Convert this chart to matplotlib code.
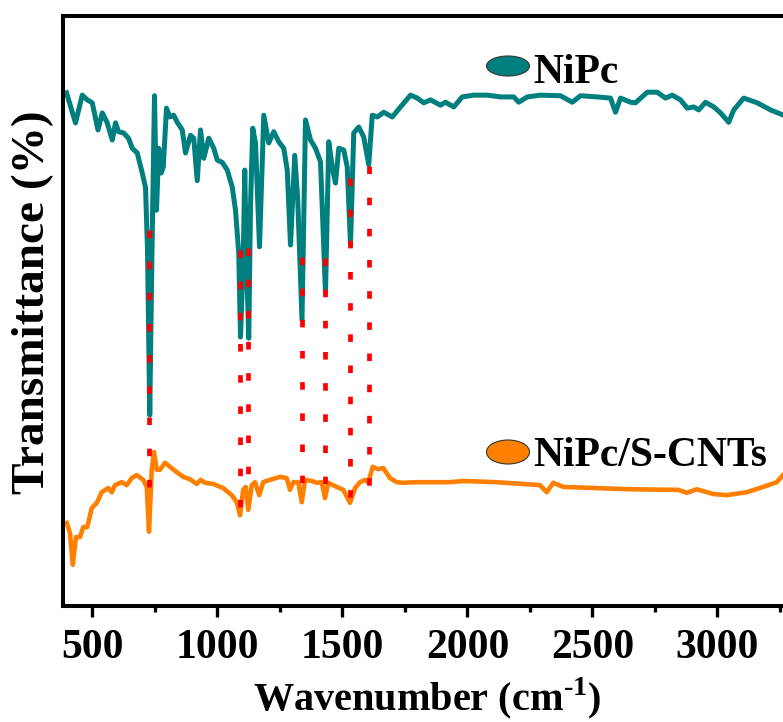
import matplotlib
matplotlib.use('Agg')
import matplotlib.pyplot as plt
from matplotlib.patches import Ellipse
from matplotlib.ticker import MultipleLocator

# NiPc spectrum (wavenumber in cm-1, transmittance in arbitrary %)
nipc_wn = [396, 432, 459, 479, 499, 522, 539, 559, 579, 592, 604, 624, 644, 659, 679, 699, 712, 720,
           729, 738, 748, 756, 765, 775, 783, 796, 809, 825, 839, 859, 872, 892, 905, 919, 932, 945,
           965, 985, 999, 1019, 1039, 1059, 1072, 1085, 1092, 1103, 1109, 1116, 1125, 1132, 1141,
           1152, 1168, 1185, 1205, 1225, 1245, 1265, 1279, 1292, 1309, 1321, 1338, 1352, 1372, 1392,
           1412, 1432, 1445, 1459, 1472, 1485, 1505, 1519, 1532, 1545, 1565, 1585, 1605, 1619, 1639,
           1665, 1699, 1732, 1772, 1799, 1825, 1852, 1892, 1912, 1945, 1979, 2025, 2079, 2132, 2185,
           2205, 2239, 2292, 2372, 2419, 2452, 2519, 2572, 2592, 2612, 2652, 2672, 2719, 2759, 2792,
           2819, 2852, 2879, 2905, 2925, 2952, 2985, 3012, 3045, 3065, 3105, 3159, 3212, 3264, 3300]
nipc_t = [86.9, 81.8, 86.5, 85.7, 85.2, 80.6, 83.5, 81.8, 78.9, 81.8, 80.3, 80.1, 79.2, 77.5, 76.7,
          73.3, 70.9, 60.3, 32.3, 60.3, 86.4, 67.0, 77.5, 73.3, 74.3, 84.3, 82.8, 83.1, 81.9, 80.6,
          76.7, 79.7, 79.2, 72.0, 80.6, 75.8, 79.2, 77.5, 75.5, 75.1, 73.8, 70.9, 67.0, 59.7, 45.5,
          58.6, 73.8, 58.6, 45.3, 67.8, 80.9, 78.4, 60.8, 83.1, 78.4, 80.3, 78.6, 77.5, 73.8, 61.1,
          76.3, 68.7, 48.4, 82.3, 78.9, 77.5, 75.2, 53.0, 78.6, 74.3, 71.6, 77.5, 77.2, 74.3, 61.1,
          80.1, 81.1, 79.4, 74.7, 83.1, 82.8, 83.6, 82.8, 84.5, 86.5, 86.0, 85.2, 85.7, 84.8, 85.3,
          84.5, 86.2, 86.5, 86.5, 86.2, 86.2, 85.3, 86.2, 86.5, 86.4, 85.3, 86.4, 86.2, 86.0, 83.6,
          86.0, 85.3, 85.2, 87.0, 87.0, 86.0, 86.5, 85.7, 84.3, 84.5, 84.0, 85.3, 84.5, 83.5, 81.9,
          84.0, 86.0, 85.2, 84.0, 83.1, 82.6]

# NiPc/S-CNTs spectrum
cnt_wn = [397, 410, 421, 434, 450, 463, 479, 497, 517, 537, 563, 577, 590, 617, 637, 657, 677, 703,
          717, 726, 737, 746, 757, 770, 790, 810, 837, 863, 890, 917, 933, 950, 983, 1023, 1057,
          1077, 1090, 1103, 1113, 1123, 1137, 1150, 1167, 1183, 1210, 1250, 1277, 1290, 1303, 1323,
          1337, 1350, 1377, 1397, 1417, 1430, 1443, 1477, 1503, 1530, 1550, 1570, 1590, 1603, 1621,
          1643, 1663, 1690, 1717, 1743, 1797, 1850, 1930, 1983, 2117, 2290, 2317, 2343, 2383, 2517,
          2650, 2843, 2877, 2917, 2983, 3037, 3117, 3183, 3237, 3262, 3300]
cnt_t = [14.0, 12.3, 6.9, 11.6, 11.6, 13.3, 13.3, 16.5, 17.4, 19.2, 19.9, 19.2, 20.4, 20.9, 20.4,
         21.6, 22.1, 21.3, 20.1, 12.5, 23.0, 26.0, 23.0, 23.0, 24.2, 23.5, 22.6, 21.8, 21.4, 20.6,
         21.3, 20.8, 20.6, 19.9, 18.7, 17.5, 15.3, 19.6, 20.1, 16.2, 20.4, 20.9, 18.7, 20.9, 21.3,
         21.8, 21.6, 19.6, 20.9, 20.9, 17.5, 21.3, 21.1, 20.8, 20.9, 18.2, 20.8, 20.1, 19.6, 17.4,
         19.9, 20.9, 21.3, 20.9, 23.5, 23.1, 23.3, 21.6, 20.9, 20.8, 20.9, 20.9, 20.9, 21.1, 20.9,
         20.4, 19.2, 20.8, 20.1, 19.9, 19.7, 19.6, 19.1, 19.7, 18.9, 18.7, 19.2, 20.1, 20.9, 22.1,
         23.8]

# marked NiPc bands and the span of each guide line
peak_wn = [727, 1090, 1123, 1337, 1430, 1529, 1606]
peak_top = [63.6, 60.3, 60.6, 59.1, 58.9, 72.5, 74.5]
peak_bottom = [18.4, 15.3, 21.3, 19.9, 19.6, 16.9, 18.7]

series_names = ['NiPc', 'NiPc/S-CNTs']
series_colors = ['#007f7f', '#ff8000']

plt.rcParams['font.family'] = ['Liberation Serif', 'DejaVu Serif']
plt.rcParams['font.weight'] = 'bold'
plt.rcParams['mathtext.fontset'] = 'custom'
plt.rcParams['mathtext.rm'] = 'Liberation Serif:bold'
plt.rcParams['mathtext.bf'] = 'Liberation Serif:bold'

W, H = 783., 722.
fig = plt.figure(figsize=(W / 100, H / 100), dpi=100)
ax = fig.add_axes([63 / W, (H - 605.5) / H, 727.8 / W, 590 / H])

ax.plot(nipc_wn, nipc_t, color=series_colors[0], linewidth=3.6, solid_joinstyle='round', zorder=2)
ax.plot(cnt_wn, cnt_t, color=series_colors[1], linewidth=3.3, solid_joinstyle='round', zorder=2)

for wn, top, bottom in zip(peak_wn, peak_top, peak_bottom):
    ax.plot([wn, wn], [top, bottom], color='#ff0000', linewidth=3.4,
            linestyle=(0, (1.6, 5.0)), dash_capstyle='butt', zorder=3)

ax.set_xlim(382, 382 + 727.8 * 4)
ax.set_ylim(0, 100)
ax.xaxis.set_major_locator(MultipleLocator(500))
ax.xaxis.set_minor_locator(MultipleLocator(250))
ax.set_yticks([])
ax.tick_params(axis='x', which='major', direction='out', length=8, width=2.4, pad=9, labelsize=30)
ax.tick_params(axis='x', which='minor', direction='out', length=4.5, width=2.4)
for label in ax.get_xticklabels():
    label.set_fontweight('bold')
for spine in ax.spines.values():
    spine.set_linewidth(2.9)

ax.set_xlabel(r'Wavenumber (cm$^{\text{-1}}$)', fontsize=29, fontweight='bold')
ax.xaxis.label.set_verticalalignment('baseline')
ax.xaxis.set_label_coords(0.5, -0.178)
fig.text(33 / W, 1 - 302 / H, 'Transmittance (%)', rotation=90, ha='center', va='center',
         fontsize=34, fontweight='bold')

# legend-like labels with ellipse markers
legend_pos = [(508, 66, 20, 83), (508, 452, 24, 466)]
for (cx, cy, eh, base), name, color in zip(legend_pos, series_names, series_colors):
    fig.add_artist(Ellipse((cx / W, 1 - cy / H), 43 / W, eh / H, transform=fig.transFigure,
                           facecolor=color, edgecolor='#333333', linewidth=0.8))
    fig.text(533 / W, 1 - base / H, name, ha='left', va='baseline', fontsize=30, fontweight='bold')

fig.savefig('out.png', dpi=100)
